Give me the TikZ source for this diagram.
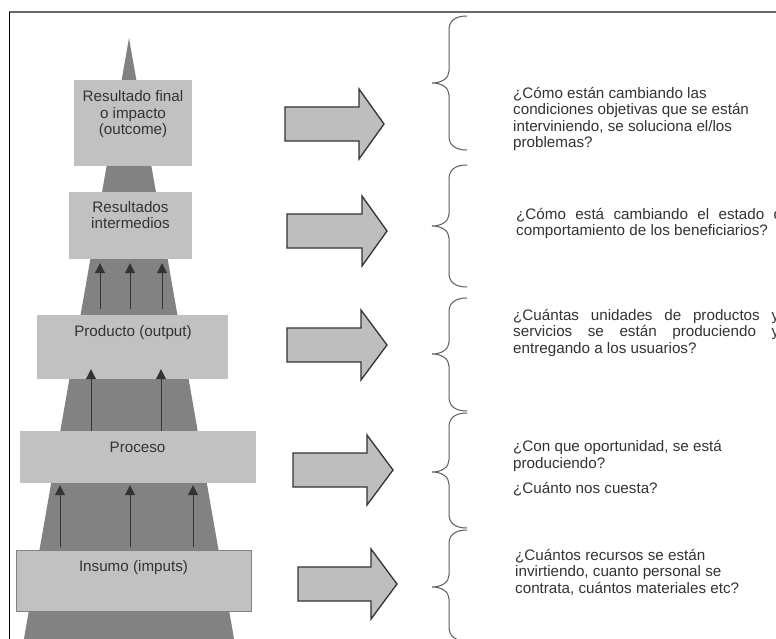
\documentclass[tikz,border=0pt]{standalone}
\usepackage{fontspec}
\setmainfont{Liberation Sans}
\usetikzlibrary{arrows.meta}

\definecolor{conefill}{HTML}{828282}
\definecolor{levelfill}{HTML}{C1C1C1}
\definecolor{ink}{HTML}{333333}
\definecolor{blockfill}{HTML}{BEBEBE}
\definecolor{bracecol}{HTML}{5C5C5C}
\definecolor{framecol}{HTML}{6A6A6A}

% wide grey arrow: shaft start, head start, tip, centre line
\newcommand\blockarrow[4]{%
  \draw[blockarrow] (#1,{#4-17}) -- (#2,{#4-17}) -- (#2,{#4-35}) -- (#3,#4)
    -- (#2,{#4+35}) -- (#2,{#4+17}) -- (#1,{#4+17}) -- cycle;}

% left curly brace: top, cusp and bottom heights
\newcommand\qbrace[3]{%
  \draw[qbrace] (467,#1) .. controls (455,#1) and (449,{#1+5}) .. (449,{#1+14})
    -- (449,{#2-12}) .. controls (449,{#2-5}) and (442,#2) .. (432,#2)
    .. controls (442,#2) and (449,{#2+5}) .. (449,{#2+12})
    -- (449,{#3-14}) .. controls (449,{#3-5}) and (455,#3) .. (467,#3);}

\newcommand\jline[1]{\makebox[266pt][s]{#1}}

\begin{document}
\begin{tikzpicture}[x=1pt,y=-1pt,
  level/.style={fill=levelfill, draw=none, inner sep=0pt},
  levellabel/.style={inner sep=0pt, align=center, text=ink, anchor=base,
    font=\fontsize{15.2}{16.5}\selectfont},
  question/.style={inner sep=0pt, align=left, text=ink, anchor=base west,
    font=\fontsize{15.2}{16.5}\selectfont},
  uparrow/.style={draw=ink, line width=1pt,
    -{Triangle[length=10pt,width=10pt]}},
  blockarrow/.style={fill=blockfill, draw=ink, line width=1.3pt, line join=miter},
  qbrace/.style={draw=bracecol, line width=1pt}]

\useasboundingbox (0,0) rectangle (776,639);
\fill[white] (0,0) rectangle (776,639);

\begin{scope}
\clip (0,0) rectangle (776,639);

% frame
\draw[framecol, line width=1.6pt] (9,12) -- (780,12);
\draw[black, line width=1pt] (9,12) -- (9,645);

% cone behind the levels
\fill[conefill] (129,38) -- (22,650) -- (236,650) -- cycle;

% levels
\node[level, minimum width=118pt, minimum height=86pt] (b1) at (133,123) {};
\node[level, minimum width=123pt, minimum height=67pt] (b2) at (130.5,225.5) {};
\node[level, minimum width=191pt, minimum height=64pt] (b3) at (132.5,347) {};
\node[level, minimum width=236pt, minimum height=52pt] (b4) at (138,457) {};
\node[level, draw=conefill, line width=0.8pt, minimum width=235pt, minimum height=61pt] (b5) at (133.5,580.5) {};

% labels (a multi-line label sits on the baseline of its last line)
\node[levellabel] (l1) at (133,135) {Resultado final\\o impacto\\(outcome)};
\node[levellabel] (l2) at (130.5,229) {Resultados\\intermedios};
\node[levellabel] (l3) at (133,336) {Producto (output)};
\node[levellabel] (l4) at (137.5,452) {Proceso};
\node[levellabel] (l5) at (133.5,571) {Insumo (imputs)};

% flows between levels
\foreach \x in {100,130,162}
  \draw[uparrow, shorten <=6pt, shorten >=4pt] (b3.north -| \x,0) -- (b2.south -| \x,0);
\foreach \x in {91,161}
  \draw[uparrow, shorten >=-10pt] (b4.north -| \x,0) -- (b3.south -| \x,0);
\foreach \x in {60,130,193}
  \draw[uparrow, shorten <=3pt, shorten >=2pt] (b5.north -| \x,0) -- (b4.south -| \x,0);

% arrows towards the questions
\blockarrow{285}{359}{384}{124}
\blockarrow{287}{362}{387}{231}
\blockarrow{287}{361}{387}{345}
\blockarrow{293}{367}{393}{470}
\blockarrow{298}{371}{397}{584}

% braces
\qbrace{16}{83}{150}
\qbrace{165}{226}{287}
\qbrace{298}{354}{411}
\qbrace{413}{472}{528}
\qbrace{530}{587}{641}

% questions
\node[question] (q1) at (513,148) {¿Cómo están cambiando las\\condiciones objetivas que se están\\interviniendo, se soluciona el/los\\problemas?};
\node[question] (q2) at (516,236) {\jline{¿Cómo está cambiando el estado o}\\comportamiento de los beneficiarios?};
\node[question] (q3) at (513,353) {\jline{¿Cuántas unidades de productos y}\\\jline{servicios se están produciendo y}\\entregando a los usuarios?};
\node[question] (q4) at (513,493) {¿Con que oportunidad, se está\\produciendo?\\[8.5pt]¿Cuánto nos cuesta?};
\node[question] (q5) at (515,593) {¿Cuántos recursos se están\\invirtiendo, cuanto personal se\\contrata, cuántos materiales etc?};
\end{scope}
\end{tikzpicture}
\end{document}
